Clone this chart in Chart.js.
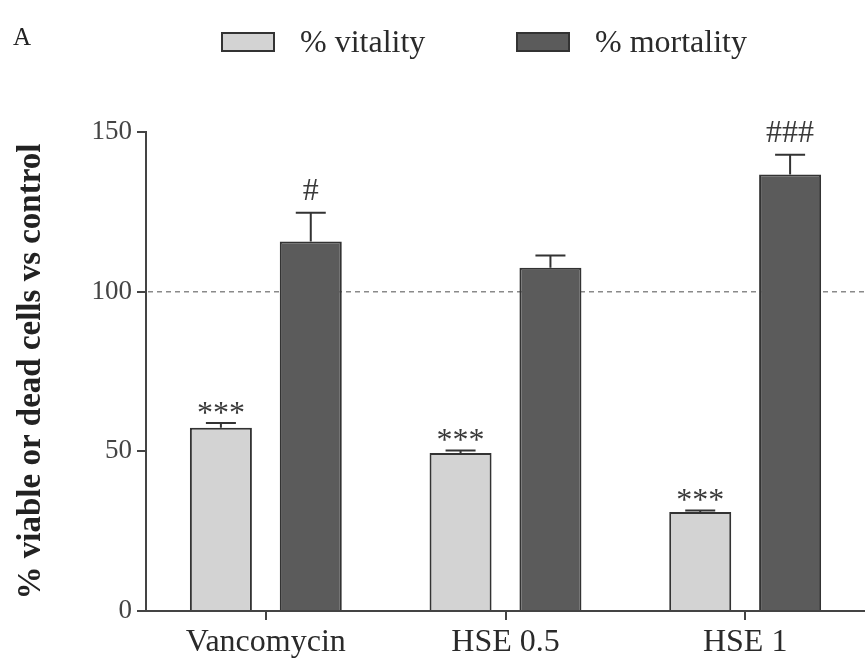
<!DOCTYPE html>
<html>
<head>
<meta charset="utf-8">
<script src="https://cdn.jsdelivr.net/npm/chart.js@4"></script>
<style>
  html, body { margin: 0; padding: 0; background: #fff; }
  #wrap { width: 865px; height: 666px; }
</style>
</head>
<body>
<div id="wrap"><canvas id="grafico" width="865" height="666"></canvas></div>
<script>
// datos
const grupos = ['Vancomycin', 'HSE 0.5', 'HSE 1'];
const vitalidad = [57.4, 49.5, 31.0];
const vitalidadErr = [1.5, 0.8, 0.5];
const mortalidad = [115.7, 107.5, 136.7];
const mortalidadErr = [9.0, 3.8, 6.2];
const marcasVit = ['***', '***', '***'];
const marcasMort = ['#', '', '###'];
const ticksY = [0, 50, 100, 150];
const leyenda = ['% vitality', '% mortality'];

const serif = '"Liberation Serif", "DejaVu Serif", serif';
const colVit = '#d3d3d3';
const colMort = '#5b5b5b';
const colBorde = '#333333';

// linea discontinua del control (100%)
const lineaControl = {
  id: 'lineaControl',
  beforeDatasetsDraw(chart) {
    const { ctx, chartArea, scales } = chart;
    const y = scales.y.getPixelForValue(100);
    ctx.save();
    ctx.strokeStyle = '#8a8a8a';
    ctx.lineWidth = 1.5;
    ctx.setLineDash([5, 4]);
    ctx.beginPath();
    ctx.moveTo(chartArea.left + 2, y);
    ctx.lineTo(chartArea.right, y);
    ctx.stroke();
    ctx.restore();
  }
};

// barras de error (solo hacia arriba) y asteriscos
const errores = {
  id: 'errores',
  afterDatasetsDraw(chart) {
    const { ctx, scales } = chart;
    const errs = [vitalidadErr, mortalidadErr];
    const vals = [vitalidad, mortalidad];
    const marcas = [marcasVit, marcasMort];
    ctx.save();
    chart.data.datasets.forEach((ds, d) => {
      const meta = chart.getDatasetMeta(d);
      meta.data.forEach((bar, i) => {
        const yTop = scales.y.getPixelForValue(vals[d][i]);
        const yCap = scales.y.getPixelForValue(vals[d][i] + errs[d][i]);
        ctx.strokeStyle = colBorde;
        ctx.lineWidth = 2;
        ctx.beginPath();
        ctx.moveTo(bar.x, yTop);
        ctx.lineTo(bar.x, yCap);
        ctx.moveTo(bar.x - 15, yCap);
        ctx.lineTo(bar.x + 15, yCap);
        ctx.stroke();
        if (marcas[d][i]) {
          ctx.fillStyle = '#3a3a3a';
          ctx.font = '32px ' + serif;
          ctx.textAlign = 'center';
          ctx.textBaseline = 'alphabetic';
          const off = marcas[d][i].startsWith('#') ? 13 : 0;
          ctx.fillText(marcas[d][i], bar.x, yCap - off);
        }
      });
    });
    ctx.restore();
  }
};

// leyenda y letra del panel
const leyendaPanel = {
  id: 'leyendaPanel',
  afterDraw(chart) {
    const { ctx } = chart;
    ctx.save();
    ctx.fillStyle = '#222';
    ctx.font = '25px ' + serif;
    ctx.textBaseline = 'alphabetic';
    ctx.fillText('A', 13, 45);
    const cajas = [222, 517];
    const rellenos = [colVit, colMort];
    leyenda.forEach((txt, i) => {
      ctx.fillStyle = rellenos[i];
      ctx.fillRect(cajas[i], 33, 52, 18);
      ctx.strokeStyle = colBorde;
      ctx.lineWidth = 2;
      ctx.strokeRect(cajas[i], 33, 52, 18);
      ctx.fillStyle = '#2a2a2a';
      ctx.font = '32px ' + serif;
      ctx.fillText(txt, cajas[i] + 78, 52);
    });
    ctx.restore();
  }
};

const ctx = document.getElementById('grafico').getContext('2d');
const grafico = new Chart(ctx, {
  type: 'bar',
  data: {
    labels: grupos,
    datasets: [
      {
        label: leyenda[0],
        data: vitalidad,
        backgroundColor: colVit,
        borderColor: colBorde,
        borderWidth: 2,
        borderSkipped: 'bottom',
        categoryPercentage: 0.75,
        barPercentage: 0.69
      },
      {
        label: leyenda[1],
        data: mortalidad,
        backgroundColor: colMort,
        borderColor: colBorde,
        borderWidth: 2,
        borderSkipped: 'bottom',
        categoryPercentage: 0.75,
        barPercentage: 0.69
      }
    ]
  },
  options: {
    responsive: false,
    animation: false,
    layout: { padding: { top: 132, right: 0, left: 0, bottom: 0 } },
    plugins: {
      legend: { display: false },
      tooltip: { enabled: false }
    },
    scales: {
      x: {
        offset: true,
        grid: {
          offset: false,
          drawOnChartArea: false,
          drawTicks: true,
          tickLength: 9,
          color: '#444',
          lineWidth: 2
        },
        border: { display: true, color: '#444', width: 2 },
        ticks: {
          color: '#2a2a2a',
          padding: 3,
          font: { family: serif, size: 32 }
        },
        afterFit(scale) { scale.height = 55; }
      },
      y: {
        min: 0,
        max: 150,
        afterBuildTicks(scale) { scale.ticks = ticksY.map(v => ({ value: v })); },
        grid: {
          drawOnChartArea: false,
          drawTicks: true,
          tickLength: 9,
          color: '#444',
          lineWidth: 2
        },
        border: { display: true, color: '#444', width: 2 },
        ticks: {
          color: '#444',
          padding: 5,
          font: { family: serif, size: 27 }
        },
        title: {
          display: true,
          text: '% viable or dead cells vs control',
          color: '#222',
          font: { family: serif, size: 33, weight: 'bold' },
          padding: { top: 12, bottom: 0 }
        },
        afterFit(scale) { scale.width = 146; }
      }
    }
  },
  plugins: [lineaControl, errores, leyendaPanel]
});
</script>
</body>
</html>
